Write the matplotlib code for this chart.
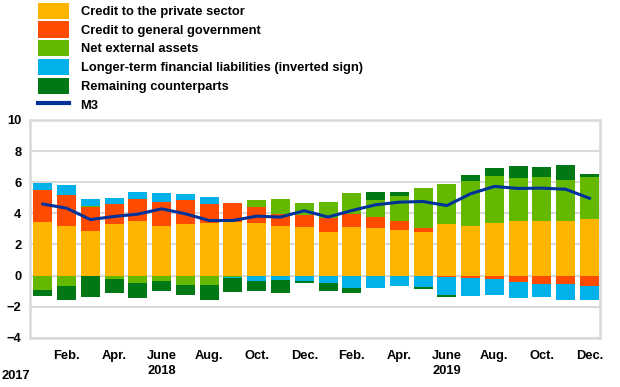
import numpy as np
import matplotlib
matplotlib.use("Agg")
import matplotlib.pyplot as plt
from matplotlib.patches import Patch
from matplotlib.lines import Line2D

plt.rcParams['font.family'] = ['Liberation Sans', 'DejaVu Sans']
plt.rcParams['font.weight'] = 'bold'

# monthly data, Jan 2018 - Dec 2019 (percentage points)
private_sector = [3.44, 3.18, 2.88, 3.33, 3.54, 3.16, 3.33, 3.37, 3.42, 3.37, 3.20, 3.12,
                  2.80, 3.10, 3.05, 2.92, 2.80, 3.29, 3.20, 3.37, 3.48, 3.48, 3.48, 3.63]
general_gov = [2.07, 1.99, 1.52, 1.24, 1.35, 1.54, 1.50, 1.25, 1.23, 1.03, 0.77, 0.75,
               0.89, 0.87, 0.69, 0.56, 0.23, -0.08, -0.15, -0.22, -0.38, -0.51, -0.51, -0.66]
net_external = [-0.94, -0.66, 0.09, -0.24, -0.49, -0.35, -0.62, -0.58, -0.08, 0.43, 0.92, 0.78,
                1.01, 1.33, 1.09, 1.62, 2.57, 2.58, 2.91, 3.06, 2.80, 2.88, 2.67, 2.73]
longer_term = [0.43, 0.68, 0.40, 0.39, 0.51, 0.58, 0.43, 0.46, -0.05, -0.35, -0.30, -0.37,
               -0.45, -0.77, -0.79, -0.69, -0.73, -1.14, -1.16, -1.00, -1.09, -0.86, -1.03, -0.88]
remaining = [-0.39, -0.92, -1.37, -0.87, -0.92, -0.64, -0.64, -1.00, -0.92, -0.66, -0.85, -0.10,
             -0.54, -0.34, 0.51, 0.30, -0.10, -0.15, 0.38, 0.49, 0.79, 0.64, 0.98, 0.18]
m3 = [4.60, 4.33, 3.60, 3.80, 3.95, 4.29, 3.97, 3.54, 3.54, 3.82, 3.76, 4.17,
      3.76, 4.18, 4.55, 4.72, 4.76, 4.50, 5.26, 5.73, 5.60, 5.62, 5.55, 4.97]

series_names = ['Credit to the private sector', 'Credit to general government',
                'Net external assets', 'Longer-term financial liabilities (inverted sign)',
                'Remaining counterparts']
colors = ['#FFB400', '#FF4B00', '#65B800', '#00B1EA', '#007816']
tick_labels = ['Feb.', 'Apr.', 'June\n2018', 'Aug.', 'Oct.', 'Dec.',
               'Feb.', 'Apr.', 'June\n2019', 'Aug.', 'Oct.', 'Dec.']
fs = 9.3

fig = plt.figure(figsize=(6.2, 3.87), dpi=100)
ax = fig.add_axes([0.048, 0.127, 0.920, 0.563])

x = np.arange(len(m3))
pos_base = np.zeros(len(x))
neg_base = np.zeros(len(x))
for vals, c in zip([private_sector, general_gov, net_external, longer_term, remaining], colors):
    v = np.array(vals)
    p = np.where(v > 0, v, 0)
    n = np.where(v < 0, v, 0)
    ax.bar(x, p, 0.8, bottom=pos_base, color=c, zorder=2, linewidth=0)
    ax.bar(x, n, 0.8, bottom=neg_base, color=c, zorder=2, linewidth=0)
    pos_base += p
    neg_base += n

ax.plot(x, m3, color='#003299', lw=2.2, zorder=3)

ax.set_xlim(-0.55, 23.45)
ax.set_ylim(-4, 10)
ax.set_yticks(np.arange(-4, 11, 2))
ax.grid(axis='y', color='#D9D9D9', lw=1.5, zorder=0)
ax.set_xticks(x[1::2])
ax.set_xticklabels(tick_labels, fontsize=fs, linespacing=1.3)
ax.tick_params(axis='both', length=0, labelsize=fs)
ax.tick_params(axis='x', pad=9)
ax.tick_params(axis='y', pad=6)
for s in ax.spines.values():
    s.set_color('#D9D9D9')
    s.set_linewidth(1.8)
fig.text(16 / 620, 1 - 376 / 387, '2017', fontsize=fs, ha='center', va='center')

handles = [Patch(facecolor=c, edgecolor='none') for c in colors]
handles.append(Line2D([0], [0], color='#003299', lw=3))
fig.legend(handles, series_names + ['M3'], loc='upper left', bbox_to_anchor=(0.057, 1.0),
           frameon=False, fontsize=fs, handlelength=2.4, handleheight=1.55,
           labelspacing=0.2, handletextpad=0.9, borderaxespad=0.1, borderpad=0.1)

fig.savefig('out.png', dpi=100)
